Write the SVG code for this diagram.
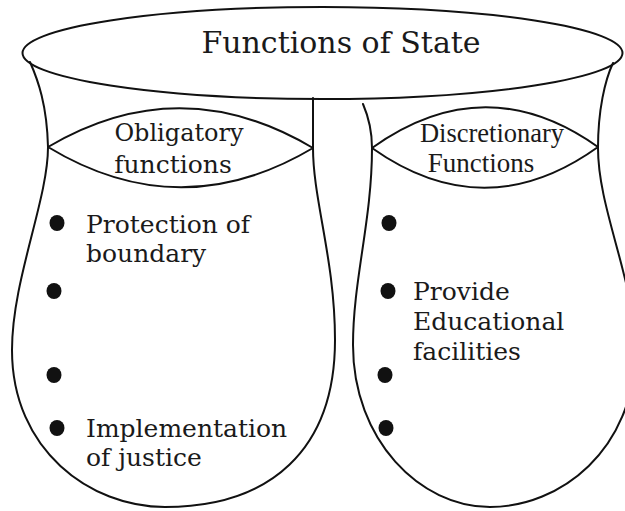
<svg xmlns="http://www.w3.org/2000/svg" width="625" height="511" viewBox="0 0 625 511">
<style>
.ln{fill:none;stroke:#111;stroke-width:2;stroke-linejoin:round;stroke-linecap:round}
.t{font-family:"DejaVu Serif","Liberation Serif",serif;fill:#1a1a1a}
.n{font-family:"Liberation Serif","Times New Roman",serif;fill:#1a1a1a}
.b{fill:#111}
</style>
<rect width="625" height="511" fill="#fff"/>
<g id="connectors">
<path class="ln" d="M30,62 C38,80 47,105 48,147 C48,200 12,280 12,350 C12,450 90,507 165,507 C270,507 335,450 335,340 C335,260 313,200 313,148 L313,98"/>
<path class="ln" d="M363,104 C369,118 372,132 372,148 C372,220 353,280 353,345 C353,440 420,507 490,507 C560,507 635,450 635,350 C635,280 598,210 598,148 C598,110 605,80 613,63"/>
</g>
<g id="title">
<ellipse class="ln" cx="322.5" cy="53" rx="300" ry="46"/>
<text class="t" x="341" y="53" font-size="30" text-anchor="middle">Functions of State</text>
</g>
<g id="obligatory">
<path class="ln" d="M48,147 Q180,69 313,148 Q180,227 48,147 Z"/>
<text class="t" x="179" y="141" font-size="24" text-anchor="middle">Obligatory</text>
<text class="t" x="173" y="173" font-size="25" text-anchor="middle">functions</text>
</g>
<g id="discretionary">
<path class="ln" d="M372,148 Q485,67 598,147 Q485,228 372,148 Z"/>
<text class="n" x="492" y="142" font-size="26.5" text-anchor="middle">Discretionary</text>
<text class="n" x="481" y="172" font-size="27" text-anchor="middle">Functions</text>
</g>
<g id="obligatory-items">
<ellipse class="b" cx="57" cy="223" rx="7.5" ry="8"/>
<text class="t" x="86" y="233" font-size="25">Protection of</text>
<text class="t" x="86" y="262" font-size="25">boundary</text>
<ellipse class="b" cx="54" cy="291" rx="7.5" ry="8"/>
<ellipse class="b" cx="54" cy="375" rx="7.5" ry="8"/>
<ellipse class="b" cx="57" cy="428" rx="7.5" ry="8"/>
<text class="t" x="86" y="437" font-size="25">Implementation</text>
<text class="t" x="86" y="466" font-size="25">of justice</text>
</g>
<g id="discretionary-items">
<ellipse class="b" cx="389" cy="223" rx="7.5" ry="8"/>
<ellipse class="b" cx="388" cy="291" rx="7.5" ry="8"/>
<text class="t" x="413" y="300" font-size="25">Provide</text>
<text class="t" x="413" y="330" font-size="25">Educational</text>
<text class="t" x="413" y="360" font-size="25">facilities</text>
<ellipse class="b" cx="385" cy="375" rx="7.5" ry="8"/>
<ellipse class="b" cx="386" cy="428" rx="7.5" ry="8"/>
</g>
</svg>
